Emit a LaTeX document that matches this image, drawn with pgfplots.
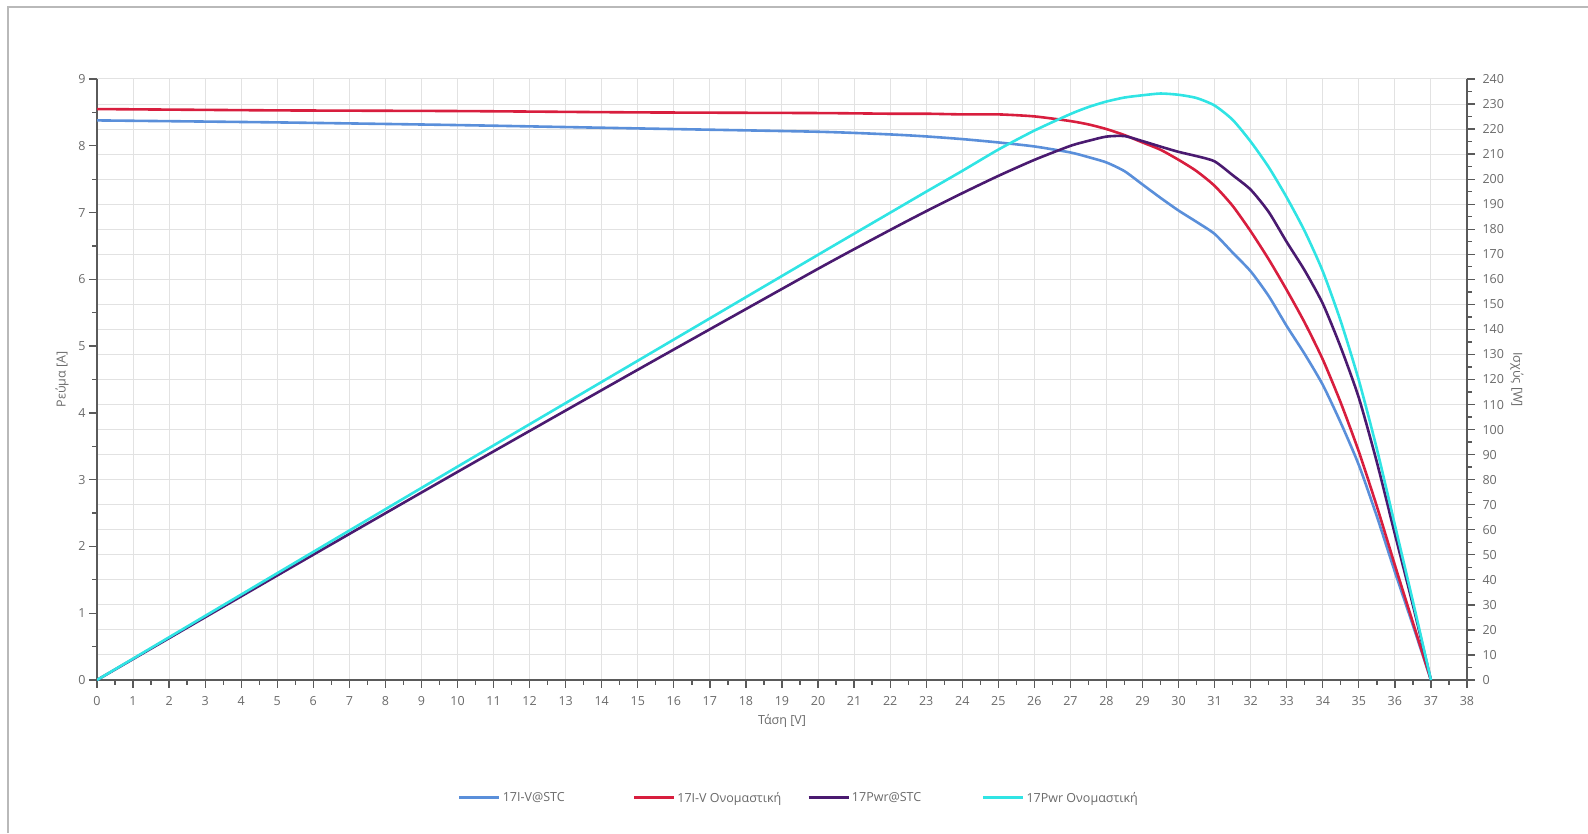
\documentclass[border=0pt]{standalone}
\usepackage{fontspec}
\setmainfont{Open Sans}
\usepackage{pgfplots}
\pgfplotsset{compat=1.18}
\definecolor{cblue}{HTML}{5A8FDA}
\definecolor{cred}{HTML}{D81E3E}
\definecolor{cpurple}{HTML}{4A1A70}
\definecolor{ccyan}{HTML}{30E4E4}
\definecolor{axgray}{HTML}{5A5A5A}
\definecolor{txtgray}{HTML}{6A6A6A}
\definecolor{gridgray}{HTML}{E2E2E2}
\pgfplotsset{
  base/.style={
    scale only axis, width=1370pt, height=601pt,
    at={(97pt,153pt)}, anchor=south west,
    xmin=0, xmax=38,
    /pgf/number format/assume math mode=true,
    tick label style={font=\fontsize{12.5}{14}\selectfont, text=txtgray},
    label style={font=\fontsize{12.5}{14}\selectfont, text=txtgray},
    axis line style={-, draw=axgray, line width=1.6pt},
    every tick/.style={draw=axgray, line width=1.3pt},
    tick align=outside,
    major tick length=8pt, minor tick length=5pt,
  }
}
\pgfplotstableread{
V I
0 8.38
5 8.35
10 8.31
15 8.26
20 8.21
22 8.17
23 8.14
24 8.10
25 8.05
26 7.99
27 7.90
27.5 7.83
28 7.75
28.5 7.62
29 7.42
29.5 7.22
30 7.03
30.5 6.86
31 6.68
31.5 6.40
32 6.12
32.5 5.75
33 5.30
33.5 4.88
34 4.42
34.5 3.85
35 3.22
35.5 2.45
36 1.62
36.5 0.82
37 0
}\ivstc
\pgfplotstableread{
V I
0 8.55
5 8.53
10 8.52
15 8.50
20 8.49
22 8.48
23 8.48
24 8.47
25 8.47
26 8.44
27 8.37
27.5 8.32
28 8.25
28.5 8.16
29 8.05
29.5 7.94
30 7.79
30.5 7.62
31 7.40
31.5 7.10
32 6.72
32.5 6.30
33 5.84
33.5 5.35
34 4.80
34.5 4.15
35 3.42
35.5 2.60
36 1.72
36.5 0.86
37 0
}\ivnom
\pgfplotstableread{
V P
0 0
5 41.75
10 83.1
15 123.9
20 164.2
22 179.7
23 187.2
24 194.4
25 201.3
26 207.7
27 213.3
27.5 215.3
28 217.0
28.5 217.2
29 215.2
29.5 213.0
30 210.9
30.5 209.2
31 207.1
31.5 201.6
32 195.8
32.5 186.9
33 174.9
33.5 163.5
34 150.3
34.5 132.8
35 112.7
35.5 87.0
36 58.3
36.5 29.9
37 0
}\pwstc
\pgfplotstableread{
V P
0 0
5 42.65
10 85.2
15 127.5
20 169.8
22 186.6
23 195.0
24 203.3
25 211.8
26 219.4
27 226.0
27.5 228.8
28 231.0
28.5 232.6
29 233.5
29.5 234.2
30 233.7
30.5 232.4
31 229.4
31.5 223.7
32 215.0
32.5 204.8
33 192.7
33.5 179.2
34 163.2
34.5 143.2
35 119.7
35.5 92.3
36 61.9
36.5 31.4
37 0
}\pwnom
\begin{document}
\begin{tikzpicture}[x=1pt,y=1pt]
\path[use as bounding box] (0,0) rectangle (1588,833);
\draw[color=gray!55, line width=1.5pt] (8,0) -- (8,826) -- (1588,826);
% grid-only axis
\begin{axis}[base,
  ymin=0, ymax=240,
  xtick={0,1,...,38}, ytick={0,10,...,240},
  xticklabels={}, yticklabels={},
  xmajorgrids, ymajorgrids,
  grid style={draw=gridgray, line width=1pt},
  axis line style={draw=none}, every tick/.style={draw=none},
]
\end{axis}
% left axis: current
\begin{axis}[base,
  ymin=0, ymax=9,
  axis y line*=left, axis x line*=bottom,
  xtick={0,1,...,38}, minor x tick num=1,
  ytick={0,1,...,9}, minor y tick num=1,
  xticklabel style={yshift=-5pt},
  xlabel={Τάση [V]},
  ylabel={Ρεύμα [A]},
  xlabel style={at={(axis description cs:0.5,-0.068)}, anchor=center},
  ylabel style={at={(axis description cs:-0.0255,0.5)}, anchor=center},
]
\addplot[cblue, line width=2.6pt, smooth, tension=0.4] table[x=V,y=I] {\ivstc};
\addplot[cred, line width=2.6pt, smooth, tension=0.4] table[x=V,y=I] {\ivnom};
\end{axis}
% right axis: power
\begin{axis}[base,
  ymin=0, ymax=240,
  axis y line*=right, axis x line=none,
  ytick={0,10,...,240}, minor y tick num=1,
  yticklabel style={xshift=4pt},
  ylabel={Ισχύς [W]},
  ylabel style={at={(axis description cs:1.0365,0.5)}, anchor=center, rotate=180},
  legend columns=4,
  legend style={at={(axis description cs:0.2635,-0.196)}, anchor=west,
    draw=none, fill=none, inner sep=0pt,
    font=\fontsize{12.5}{14}\selectfont, text=txtgray,
    /tikz/every even column/.append style={column sep=18pt}},
  legend image code/.code={\draw[#1] (0pt,0pt) -- (40pt,0pt);},
]
\addlegendimage{cblue, line width=2.6pt}
\addlegendimage{cred, line width=2.6pt}
\addplot[cpurple, line width=2.6pt, smooth, tension=0.4] table[x=V,y=P] {\pwstc};
\addplot[ccyan, line width=2.6pt, smooth, tension=0.4] table[x=V,y=P] {\pwnom};
\legend{\makebox[110pt][l]{17I-V@STC},\makebox[110pt][l]{17I-V Ονομαστική},\makebox[110pt][l]{17Pwr@STC},\makebox[110pt][l]{17Pwr Ονομαστική}}
\end{axis}
\end{tikzpicture}
\end{document}
